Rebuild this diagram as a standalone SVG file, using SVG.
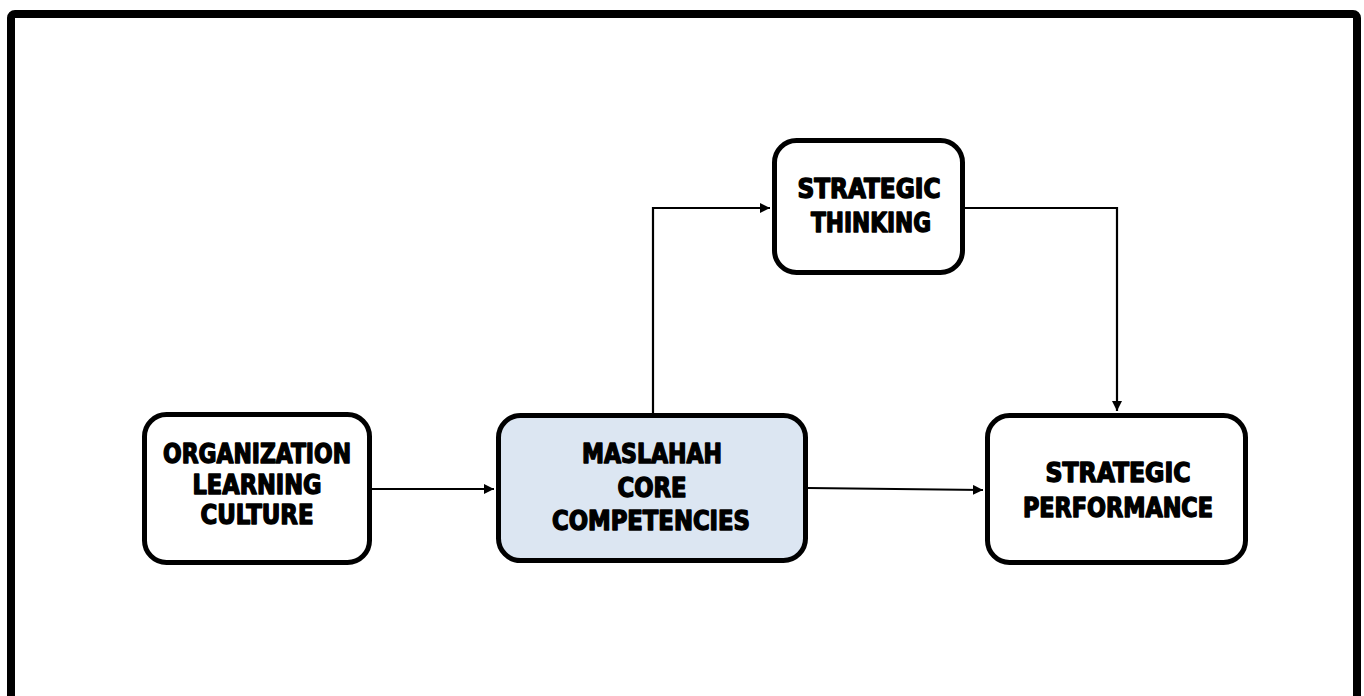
<svg xmlns="http://www.w3.org/2000/svg" width="1364" height="696" viewBox="0 0 1364 696">
<style>
.box{stroke:#000;stroke-width:5;fill:#fff}
.blue{fill:#dce6f2}
.lbl{font-family:"Liberation Sans Narrow","DejaVu Sans Condensed","Liberation Sans",Arial,sans-serif;font-weight:bold;font-size:27px;fill:#000;stroke:#000;stroke-width:1.4;stroke-linejoin:round;text-anchor:middle}
.con{stroke:#000;stroke-width:2.2;fill:none}
</style>
<defs>
<marker id="arr" viewBox="0 0 10 10" refX="10" refY="5" markerWidth="10" markerHeight="10" markerUnits="userSpaceOnUse" orient="auto">
<path d="M0,0 L10,5 L0,10 Z" fill="#000"/>
</marker>
</defs>
<rect x="0" y="0" width="1364" height="696" fill="#fff"/>
<rect id="frame" x="11" y="14" width="1346" height="700" rx="4" fill="none" stroke="#000" stroke-width="8"/>
<g id="connectors">
<line class="con" x1="372" y1="489" x2="494" y2="489" marker-end="url(#arr)"/>
<line class="con" x1="808" y1="488" x2="983" y2="490" marker-end="url(#arr)"/>
<polyline class="con" points="653,413 653,208 770,208" marker-end="url(#arr)"/>
<polyline class="con" points="965,208 1117,208 1117,411" marker-end="url(#arr)"/>
</g>
<g id="node-olc">
<rect class="box" x="144.5" y="414.5" width="225" height="148" rx="22"/>
<text class="lbl" x="257" y="463" textLength="188" lengthAdjust="spacingAndGlyphs">ORGANIZATION</text>
<text class="lbl" x="257" y="494" textLength="129" lengthAdjust="spacingAndGlyphs">LEARNING</text>
<text class="lbl" x="257" y="524" textLength="113" lengthAdjust="spacingAndGlyphs">CULTURE</text>
</g>
<g id="node-mcc">
<rect class="box blue" x="498.5" y="415.5" width="307" height="145" rx="22"/>
<text class="lbl" x="652" y="463" textLength="140" lengthAdjust="spacingAndGlyphs">MASLAHAH</text>
<text class="lbl" x="652" y="497" textLength="69" lengthAdjust="spacingAndGlyphs">CORE</text>
<text class="lbl" x="651" y="530" textLength="198" lengthAdjust="spacingAndGlyphs">COMPETENCIES</text>
</g>
<g id="node-st">
<rect class="box" x="774.5" y="140.5" width="188" height="132" rx="22"/>
<text class="lbl" x="869" y="198" textLength="143" lengthAdjust="spacingAndGlyphs">STRATEGIC</text>
<text class="lbl" x="871" y="232" textLength="120" lengthAdjust="spacingAndGlyphs">THINKING</text>
</g>
<g id="node-sp">
<rect class="box" x="987.5" y="415.5" width="258" height="147" rx="22"/>
<text class="lbl" x="1118" y="482" textLength="145" lengthAdjust="spacingAndGlyphs">STRATEGIC</text>
<text class="lbl" x="1118" y="517" textLength="190" lengthAdjust="spacingAndGlyphs">PERFORMANCE</text>
</g>
</svg>
